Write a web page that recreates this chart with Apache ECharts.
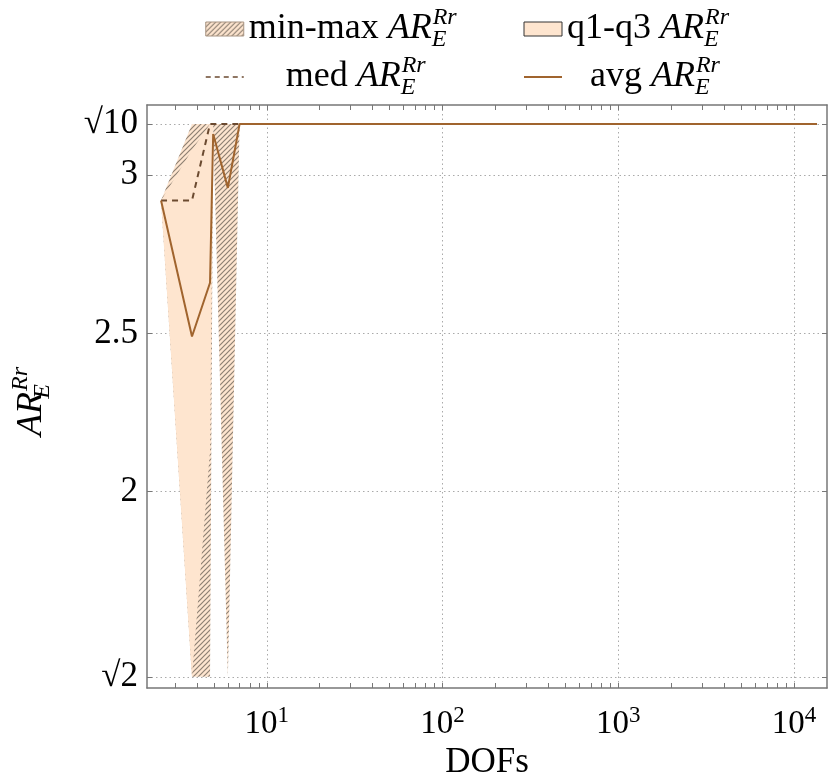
<!DOCTYPE html>
<html>
<head>
<meta charset="utf-8">
<script src="https://cdn.jsdelivr.net/npm/echarts@6/dist/echarts.min.js"></script>
<style>
  html, body { margin: 0; padding: 0; background: #fff; }
  #main { width: 830px; height: 778px; }
</style>
</head>
<body>
<div id="main"></div>
<script>
var R2 = Math.SQRT2;
var R10 = Math.sqrt(10);

// data
var dofs  = [2.5, 3.75, 4.75, 4.95, 6, 7, 13500];
var arMin = [2.92, R2, R2, R10, R2, R10, R10];
var arMax = [2.92, R10, R10, R10, R10, R10, R10];
var arQ1  = [2.92, R2, 2.13, R10, R10, R10, R10];
var arQ3  = [2.92, 3.08, R10, R10, R10, R10, R10];
var arMed = [2.92, 2.92, R10, R10, R10, R10, R10];
var arAvg = [2.92, 2.49, 2.66, 3.13, 2.96, R10, R10];

var yTickVals = [R2, 2, 2.5, 3, R10];
var yTickLabels = ['√2', '2', '2.5', '3', '√10'];
var xMajorTicks = [10, 100, 1000, 10000];
var xAllTicks = [3, 4, 5, 6, 7, 8, 9, 10,
    20, 30, 40, 50, 60, 70, 80, 90, 100,
    200, 300, 400, 500, 600, 700, 800, 900, 1000,
    2000, 3000, 4000, 5000, 6000, 7000, 8000, 9000, 10000];

var FONT = 'Liberation Serif';
var axisGray = '#777777';
var gridGray = '#aaaaaa';
var peach = '#fee5cf';
var medColor = '#6b4a30';
var avgColor = '#a0642e';

function makeHatch() {
    var c = document.createElement('canvas');
    c.width = 5; c.height = 5;
    var g = c.getContext('2d');
    g.fillStyle = peach;
    g.fillRect(0, 0, 5, 5);
    g.strokeStyle = '#8e8073';
    g.lineWidth = 1.2;
    g.beginPath();
    g.moveTo(-1, 6); g.lineTo(6, -1);
    g.moveTo(-1, 1); g.lineTo(1, -1);
    g.moveTo(4, 6); g.lineTo(6, 4);
    g.stroke();
    return c;
}

function pairs(ys) {
    return dofs.map(function (d, i) { return [d, ys[i]]; });
}

// band between lo and hi, drawn as one polygon through the axis scales
function bandSeries(name, lo, hi, fill, z) {
    return {
        name: name, type: 'custom', z: z, clip: true, silent: true,
        itemStyle: { color: peach },
        data: dofs.map(function (d, i) { return [d, lo[i], hi[i]]; }),
        encode: { x: 0, y: [1, 2] },
        renderItem: function (params, api) {
            if (params.dataIndex !== 0) return null;
            var upper = [], lower = [];
            for (var i = 0; i < dofs.length; i++) {
                upper.push(api.coord([dofs[i], hi[i]]));
                lower.unshift(api.coord([dofs[i], lo[i]]));
            }
            return {
                type: 'polygon',
                shape: { points: upper.concat(lower) },
                style: { fill: fill, stroke: null }
            };
        }
    };
}

var richAR = {
    n: { fontFamily: FONT, fontSize: 36, color: '#000', lineHeight: 46 },
    i: { fontFamily: FONT, fontSize: 36, fontStyle: 'italic', color: '#000', lineHeight: 46 },
    sb: { fontFamily: FONT, fontSize: 24, fontStyle: 'italic', color: '#000', lineHeight: 22, verticalAlign: 'bottom', width: 1 },
    sp: { fontFamily: FONT, fontSize: 24, fontStyle: 'italic', color: '#000', lineHeight: 22, verticalAlign: 'top' },
    pm: { fontFamily: FONT, fontSize: 36, color: '#000', lineHeight: 46, padding: [0, 0, 0, 37] },
    pa: { fontFamily: FONT, fontSize: 36, color: '#000', lineHeight: 46, padding: [0, 0, 0, 23] }
};

var legendText = {
    'min-max': '{n|min-max }{i|AR}{sb|E}{sp|Rr}',
    'q1-q3': '{n|q1-q3 }{i|AR}{sb|E}{sp|Rr}',
    'med': '{pm|med }{i|AR}{sb|E}{sp|Rr}',
    'avg': '{pa|avg }{i|AR}{sb|E}{sp|Rr}'
};

function chartInit() {
    var chartDom = document.getElementById('main');
    var myChart = echarts.init(chartDom, null, { renderer: 'canvas' });
    var hatch = { image: makeHatch(), repeat: 'repeat' };
    var noSymbol = { color: 'rgba(0,0,0,0)', borderWidth: 0 };
    var option;

    option = {
        animation: false,
        backgroundColor: '#fff',
        grid: { left: 147, right: 3, top: 105, bottom: 90, containLabel: false, outerBoundsMode: 'none' },
        legend: [
            {
                left: 205, top: 6, orient: 'vertical', padding: 0, itemGap: 2,
                itemWidth: 38, itemHeight: 14,
                data: [
                    { name: 'min-max', icon: 'rect', itemStyle: { color: hatch, borderColor: '#a89482', borderWidth: 1 } },
                    { name: 'med', itemStyle: noSymbol, lineStyle: { color: medColor, width: 1.5, type: [5, 4] } }
                ],
                formatter: function (name) { return legendText[name]; },
                textStyle: { rich: richAR }
            },
            {
                left: 523, top: 6, orient: 'vertical', padding: 0, itemGap: 2,
                itemWidth: 38, itemHeight: 14,
                data: [
                    { name: 'q1-q3', icon: 'rect', itemStyle: { color: peach, borderColor: '#333', borderWidth: 1 } },
                    { name: 'avg', itemStyle: noSymbol, lineStyle: { color: avgColor, width: 2 } }
                ],
                formatter: function (name) { return legendText[name]; },
                textStyle: { rich: richAR }
            }
        ],
        xAxis: [
            {
                type: 'log', min: 2.08, max: 15400, position: 'bottom',
                name: 'DOFs', nameLocation: 'middle', nameGap: 54,
                nameTextStyle: { fontFamily: FONT, fontSize: 35, color: '#000' },
                axisLine: { show: true, lineStyle: { color: axisGray, width: 1.5 } },
                axisTick: { show: true, inside: true, length: 5, customValues: xAllTicks, lineStyle: { color: axisGray } },
                axisLabel: {
                    customValues: xMajorTicks, margin: 16,
                    formatter: function (v) { return '{b|10}{s|' + Math.round(Math.log10(v)) + '}'; },
                    rich: {
                        b: { fontFamily: FONT, fontSize: 33, color: '#000', lineHeight: 40 },
                        s: { fontFamily: FONT, fontSize: 23, color: '#000', lineHeight: 22, verticalAlign: 'top' }
                    }
                },
                splitLine: { show: false }
            },
            {
                type: 'log', min: 2.08, max: 15400, position: 'top',
                axisLine: { show: true, lineStyle: { color: axisGray, width: 1.5 } },
                axisTick: { show: true, inside: true, length: 5, customValues: xAllTicks, lineStyle: { color: axisGray } },
                axisLabel: { show: false },
                splitLine: { show: false }
            },
            {
                type: 'log', min: 2.08, max: 15400, position: 'bottom',
                axisLine: { show: false },
                axisTick: { show: false, customValues: xMajorTicks },
                axisLabel: { show: false },
                splitLine: { show: true, lineStyle: { color: gridGray, type: [1.5, 3], width: 1 } }
            }
        ],
        yAxis: [
            {
                type: 'value', min: 1.379, max: 3.222, position: 'left',
                name: '{i|AR}{sb|E}{sp|Rr}', nameLocation: 'middle', nameGap: 92, nameRotate: 90,
                nameTextStyle: { rich: richAR, padding: [0, 10, 0, 0] },
                axisLine: { show: true, lineStyle: { color: axisGray, width: 1.5 } },
                axisTick: { show: true, inside: true, length: 5, customValues: yTickVals, lineStyle: { color: axisGray } },
                axisLabel: {
                    customValues: yTickVals, margin: 9,
                    fontFamily: FONT, fontSize: 35, color: '#000',
                    formatter: function (v) {
                        for (var k = 0; k < yTickVals.length; k++) {
                            if (Math.abs(yTickVals[k] - v) < 1e-6) return yTickLabels[k];
                        }
                        return '';
                    }
                },
                splitLine: { show: true, lineStyle: { color: gridGray, type: [1.5, 3], width: 1 } }
            },
            {
                type: 'value', min: 1.379, max: 3.222, position: 'right',
                axisLine: { show: true, lineStyle: { color: axisGray, width: 1.5 } },
                axisTick: { show: true, inside: true, length: 5, customValues: yTickVals, lineStyle: { color: axisGray } },
                axisLabel: { show: false },
                splitLine: { show: false }
            }
        ],
        series: [
            bandSeries('min-max', arMin, arMax, hatch, 1),
            bandSeries('q1-q3', arQ1, arQ3, peach, 2),
            {
                name: 'med', type: 'line', data: pairs(arMed),
                symbol: 'none', itemStyle: { color: medColor },
                lineStyle: { color: medColor, width: 2, type: [6, 5] }, z: 3
            },
            {
                name: 'avg', type: 'line', data: pairs(arAvg),
                symbol: 'none', itemStyle: { color: avgColor },
                lineStyle: { color: avgColor, width: 2 }, z: 4
            }
        ]
    };

    option && myChart.setOption(option);
}

chartInit();
</script>
</body>
</html>
